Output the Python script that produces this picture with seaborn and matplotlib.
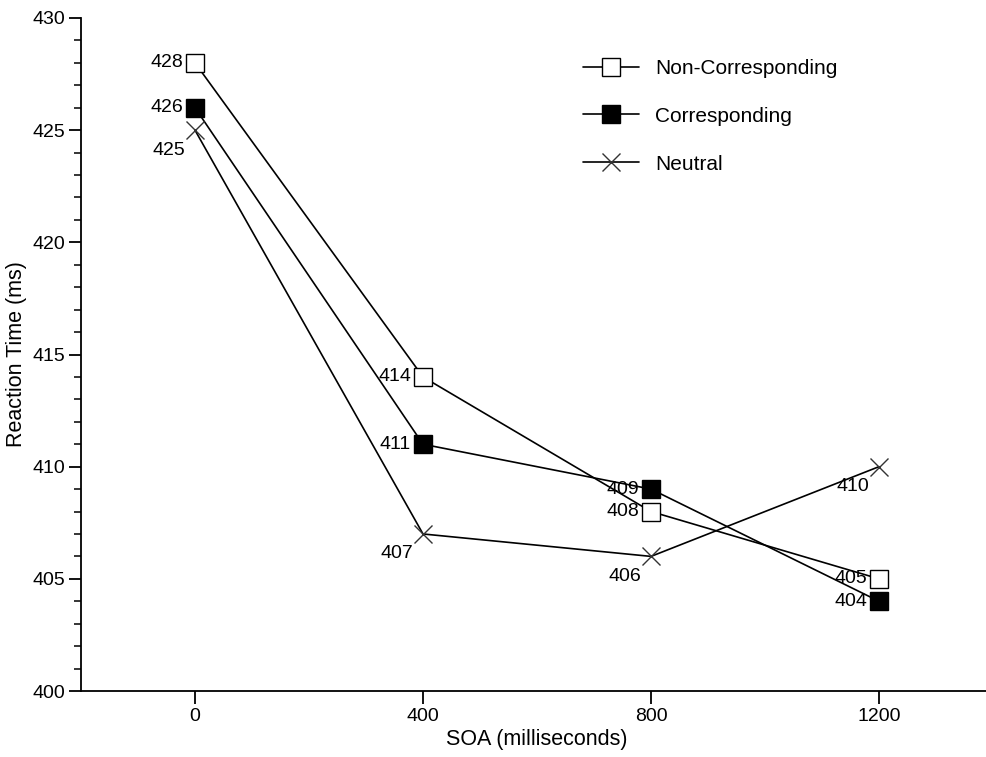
import matplotlib
matplotlib.use("Agg")
import matplotlib.pyplot as plt
import seaborn as sns
import pandas as pd

soa = [0, 400, 800, 1200]
non_corresponding = [428, 414, 408, 405]
corresponding = [426, 411, 409, 404]
neutral = [425, 407, 406, 410]
x_ticks = [0, 400, 800, 1200]
y_ticks = [400, 405, 410, 415, 420, 425, 430]

sns.set_theme(style="ticks")
plt.rcParams['font.family'] = ['Liberation Sans', 'DejaVu Sans']
plt.rcParams['text.color'] = 'black'
plt.rcParams['axes.labelcolor'] = 'black'

W, H = 986, 757
fig = plt.figure(figsize=(W / 100, H / 100), dpi=100)
px_per_unit = (880 - 196) / 1200.0
left_px, right_px = 81, 81 + 1600 * px_per_unit
top_px, bottom_px = 18, 691
ax = fig.add_axes([left_px / W, 1 - bottom_px / H, (right_px - left_px) / W, (bottom_px - top_px) / H])

df = pd.DataFrame({"SOA": soa * 3,
                   "RT": non_corresponding + corresponding + neutral,
                   "cond": ["Non-Corresponding"] * 4 + ["Corresponding"] * 4 + ["Neutral"] * 4})

styles = {
    "Non-Corresponding": dict(marker="s", markersize=13.5, markerfacecolor="white", markeredgecolor="black", markeredgewidth=1.0),
    "Corresponding": dict(marker="s", markersize=13.5, markerfacecolor="black", markeredgecolor="black", markeredgewidth=1.0),
    "Neutral": dict(marker="x", markersize=13, markeredgecolor="#333333", markeredgewidth=1.0),
}
for name in ["Non-Corresponding", "Corresponding", "Neutral"]:
    sub = df[df["cond"] == name]
    sns.lineplot(data=sub, x="SOA", y="RT", ax=ax, color="black", linewidth=1.2,
                 label=name, **styles[name])

# value labels
def lab(x, y, dx, dy, ha, va):
    ax.annotate(f"{y}", (x, y), xytext=(dx, -dy), textcoords="offset pixels",
                ha=ha, va=va, fontsize=14, color="black", zorder=3,
                bbox=dict(boxstyle="square,pad=0.05", fc="white", ec="none"))

for x, y in zip(soa, non_corresponding):
    lab(x, y, -12, 0, "right", "center")
for x, y in zip(soa, corresponding):
    lab(x, y, -12, 0, "right", "center")
for x, y in zip(soa, neutral):
    lab(x, y, -10, 20, "right", "center")

# markers on top of labels
for ln in ax.lines:
    ln.set_zorder(4)

ax.set_xlim(-200, 1400)
ax.set_ylim(400, 430)
ax.set_xticks(x_ticks)
ax.set_yticks(y_ticks)
ax.set_yticks(range(400, 431), minor=True)
ax.tick_params(axis="both", which="major", direction="out", length=9, width=1.3, labelsize=14, colors="black", pad=2)
ax.tick_params(axis="y", which="minor", direction="out", length=5, width=1.3)
ax.tick_params(axis="x", which="major", pad=3)
sns.despine(ax=ax)
for s in ["left", "bottom"]:
    ax.spines[s].set_linewidth(1.3)
    ax.spines[s].set_color("black")

ax.set_xlabel("SOA (milliseconds)", fontsize=15.5, labelpad=3, color="black")
ax.set_ylabel("Reaction Time (ms)", fontsize=15.5, labelpad=4, color="black")

leg = ax.legend(loc="upper left", bbox_to_anchor=(583 / W, 1 - 59 / H), bbox_transform=fig.transFigure,
                frameon=False, fontsize=15, handlelength=2.7, handletextpad=0.75, labelspacing=1.38,
                borderaxespad=0, borderpad=0)
for t in leg.get_texts():
    t.set_color("black")

fig.savefig("out.png", dpi=100)
